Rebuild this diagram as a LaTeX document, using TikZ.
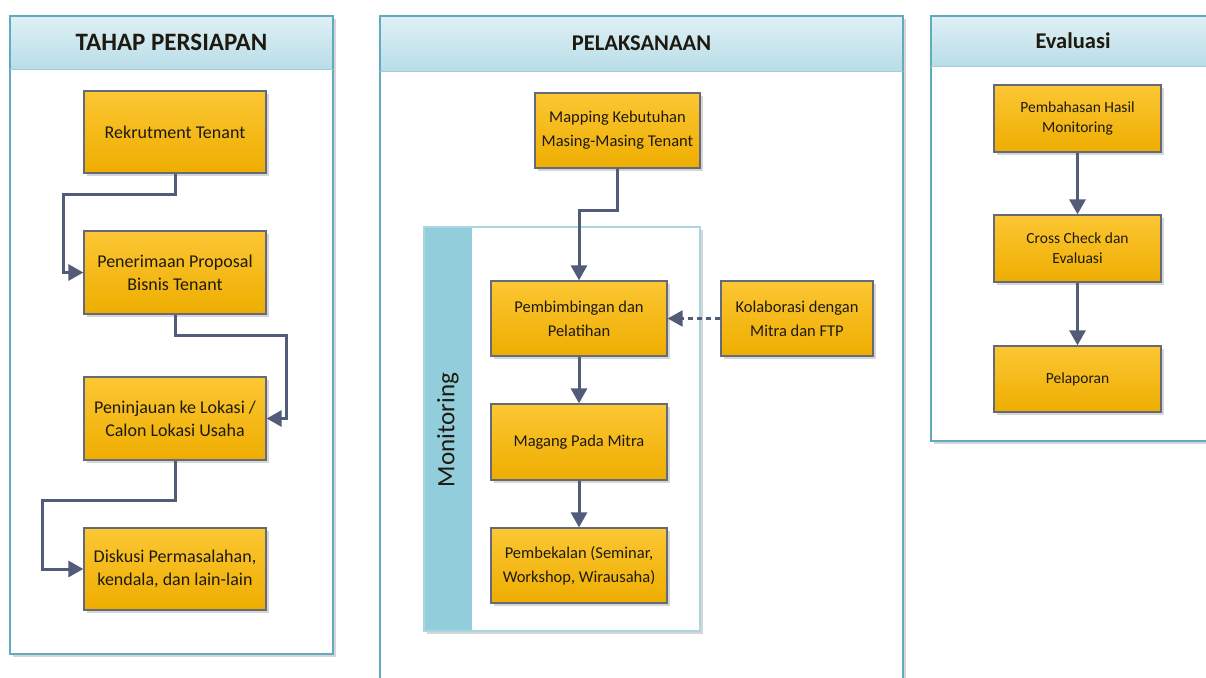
\documentclass[tikz,border=0pt]{standalone}
\usepackage{fontspec}
\setmainfont{Carlito}
\usetikzlibrary{arrows.meta,calc}
\definecolor{boxtop}{HTML}{FCC734}
\definecolor{boxbot}{HTML}{EEAD00}
\definecolor{boxline}{HTML}{646A78}
\definecolor{connc}{HTML}{525C78}
\definecolor{panline}{HTML}{62AABF}
\definecolor{headtop}{HTML}{E0F0F5}
\definecolor{headbot}{HTML}{B8DDE8}
\definecolor{band}{HTML}{92CDDC}
\definecolor{txt}{HTML}{1E1A10}
\tikzset{
  stepbox/.style={draw=boxline, line width=1.3pt, top color=boxtop, bottom color=boxbot,
    align=center, text=txt, inner sep=2pt},
  lefttxt/.style={font=\fontsize{18}{23}\selectfont},
  midtxt/.style={font=\fontsize{16.5}{24}\selectfont},
  righttxt/.style={font=\fontsize{15.5}{20}\selectfont},
  conn/.style={draw=connc, line width=3pt, -{Triangle[width=16pt,length=15pt]}},
  dconn/.style={draw=connc, line width=2.4pt, dash pattern=on 5pt off 4pt, -{Triangle[width=16pt,length=15pt]}},
  titletxt/.style={font=\fontsize{22.5}{26}\selectfont\bfseries, text=txt},
  shadowc/.style={fill=black!35, opacity=0.45},
}
\begin{document}
\begin{tikzpicture}[x=1pt,y=-1pt]
\clip (0,0) rectangle (1206,677);
\fill[white] (0,0) rectangle (1206,677);
% ---------- panels ----------
% left
\fill[shadowc] (13,19) rectangle (336,657);
\fill[white] (10,16) rectangle (333,654);
\shade[top color=headtop, bottom color=headbot] (10,16) rectangle (333,69);
\draw[panline, line width=1.5pt] (10,16) rectangle (333,654);
\draw[panline!60, line width=0.8pt] (10,69) -- (333,69);
\node[titletxt, font=\fontsize{25}{28}\selectfont\bfseries] (t1) at (171.5,42.5) {TAHAP PERSIAPAN};
% middle
\fill[shadowc] (383,19) rectangle (906,700);
\fill[white] (380,16) rectangle (903,700);
\shade[top color=headtop, bottom color=headbot] (380,16) rectangle (903,71);
\draw[panline, line width=1.5pt] (380,16) rectangle (903,700);
\draw[panline!60, line width=0.8pt] (380,71) -- (903,71);
\node[titletxt] (t2) at (641.5,43.5) {PELAKSANAAN};
% right
\fill[shadowc] (934,19) rectangle (1218,444);
\fill[white] (931,16) rectangle (1215,441);
\shade[top color=headtop, bottom color=headbot] (931,16) rectangle (1215,66);
\draw[panline, line width=1.5pt] (931,16) rectangle (1215,441);
\draw[panline!60, line width=0.8pt] (931,66) -- (1215,66);
\node[titletxt] (t3) at (1073,41) {Evaluasi};
% monitoring container
\fill[shadowc] (427,230) rectangle (703,634);
\fill[white] (424,227) rectangle (700,631);
\fill[band] (424,227) rectangle (472,631);
\draw[band!80!white, line width=1.2pt] (424,227) rectangle (700,631);
\node[font=\fontsize{25}{28}\selectfont, text=txt, rotate=90] (mon) at (448,430) {Monitoring};
% ---------- box shadows ----------
\foreach \cx/\cy/\w/\h in {175/132/182/82, 175/272.5/182/83, 175/418.5/182/83, 175/569/182/82,
  617.5/130.5/165/75, 579/318.5/176/75, 579/442/176/76, 579/565.5/176/75, 797/318.5/152/75,
  1077.5/118.5/167/67, 1077.5/248.5/167/67, 1077.5/379/167/66}{
  \fill[shadowc] ({\cx-\w/2+3},{\cy-\h/2+3}) rectangle ({\cx+\w/2+3},{\cy+\h/2+3});
}
% ---------- boxes ----------
\node[stepbox, lefttxt, minimum width=182pt, minimum height=82pt] (rek) at (175,132) {Rekrutment Tenant};
\node[stepbox, lefttxt, minimum width=182pt, minimum height=83pt] (pen) at (175,272.5) {Penerimaan Proposal\\Bisnis Tenant};
\node[stepbox, lefttxt, minimum width=182pt, minimum height=83pt] (pnj) at (175,418.5) {Peninjauan ke Lokasi /\\Calon Lokasi Usaha};
\node[stepbox, lefttxt, minimum width=182pt, minimum height=82pt] (disk) at (175,569) {Diskusi Permasalahan,\\kendala, dan lain-lain};
\node[stepbox, midtxt, minimum width=165pt, minimum height=75pt] (map) at (617.5,130.5) {Mapping Kebutuhan\\Masing-Masing Tenant};
\node[stepbox, midtxt, minimum width=176pt, minimum height=75pt] (pemb) at (579,318.5) {Pembimbingan dan\\Pelatihan};
\node[stepbox, midtxt, minimum width=176pt, minimum height=76pt] (mag) at (579,442) {Magang Pada Mitra};
\node[stepbox, midtxt, minimum width=176pt, minimum height=75pt] (pbk) at (579,565.5) {Pembekalan (Seminar,\\Workshop, Wirausaha)};
\node[stepbox, midtxt, minimum width=152pt, minimum height=75pt] (kol) at (797,318.5) {Kolaborasi dengan\\Mitra dan FTP};
\node[stepbox, righttxt, minimum width=167pt, minimum height=67pt] (pbh) at (1077.5,118.5) {Pembahasan Hasil\\Monitoring};
\node[stepbox, righttxt, minimum width=167pt, minimum height=67pt] (cc) at (1077.5,248.5) {Cross Check dan\\Evaluasi};
\node[stepbox, righttxt, minimum width=167pt, minimum height=66pt] (pel) at (1077.5,379) {Pelaporan};
% ---------- connectors ----------
\draw[conn] (rek.south) -- ++(0,21) -| ($(pen.west)+(-20,0)$) -- (pen.west);
\draw[conn] (pen.south) -- ++(0,21) -| ($(pnj.east)+(20,0)$) -- (pnj.east);
\draw[conn] (pnj.south) -- ++(0,40) -| ($(disk.west)+(-41,0)$) -- (disk.west);
\draw[conn] (map.south) -- ++(0,42) -| (pemb.north);
\draw[conn] (pemb.south) -- (mag.north);
\draw[conn] (mag.south) -- (pbk.north);
\draw[dconn] (kol.west) -- (pemb.east);
\draw[conn] (pbh.south) -- (cc.north);
\draw[conn] (cc.south) -- (pel.north);
\end{tikzpicture}
\end{document}
